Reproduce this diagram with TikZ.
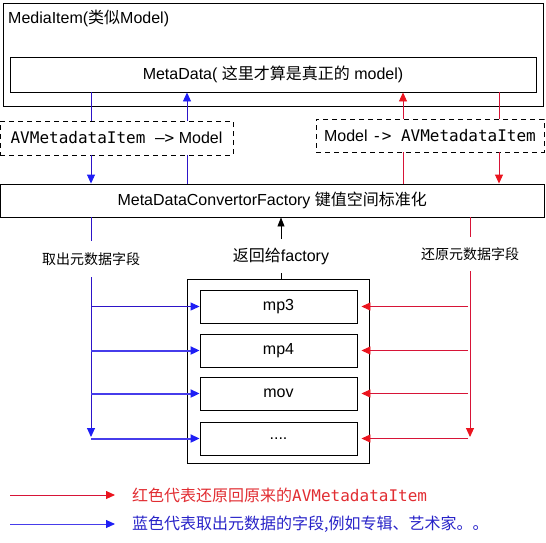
\documentclass[tikz,border=0pt]{standalone}
\usepackage{fontspec}
\setmainfont{Liberation Sans}
\newfontfamily\cjk{Noto Sans CJK SC}
\newfontfamily\mono{DejaVu Sans Mono}
\usetikzlibrary{arrows.meta,positioning}
\definecolor{lineblue}{RGB}{45,20,200}
\definecolor{tipblue}{RGB}{30,30,245}
\definecolor{thickblue}{RGB}{70,60,235}
\definecolor{linered}{RGB}{215,20,55}
\definecolor{tipred}{RGB}{235,20,30}
\definecolor{textred}{RGB}{225,45,50}
\definecolor{textblue}{RGB}{40,35,200}
\tikzset{
  box/.style={draw, line width=0.9pt, inner sep=0pt, fill=white},
  dashbox/.style={draw, dash pattern=on 5pt off 4pt, line width=0.9pt, fill=white, inner sep=0pt},
  lbl/.style={fill=white, inner sep=0pt, outer sep=0pt},
  bline/.style={lineblue, line width=0.9pt},
  rline/.style={linered, line width=0.9pt},
  btip/.style={-{Triangle[length=9pt,width=8pt,color=tipblue]}},
  rtip/.style={-{Triangle[length=9pt,width=8pt,color=tipred]}},
  ktip/.style={-{Triangle[length=9pt,width=7pt]}},
}
\begin{document}
\begin{tikzpicture}[x=1pt, y=-1pt, font=\fontsize{16}{19}\selectfont]
    \useasboundingbox (0,0) rectangle (546,542);
    %MediaItem
    \node[box, minimum width=540pt, minimum height=103pt] (item) at (273,54.5) {};
    \node[anchor=west, inner sep=0pt] (itemlbl) at (8,18) {MediaItem({\cjk 类似}Model)};
    \node[box, minimum width=526pt, minimum height=35pt] (meta) at (273,74.5) {MetaData( {\cjk 这里才算是真正的} model)};
    %Converters
    \node[dashbox, minimum width=233pt, minimum height=34pt] (toModel) at (116.5,138) {{\mono AVMetadataItem –>} Model};
    \node[dashbox, minimum width=228pt, minimum height=33pt] (toItem) at (430,135.5) {Model {\mono -> AVMetadataItem}};
    \node[box, minimum width=543.5pt, minimum height=33pt] (factory) at (272.25,200.5) {MetaDataConvertorFactory {\cjk 键值空间标准化}};
    %columns
    \coordinate (bl) at (91,0);
    \coordinate (bu) at (187,0);
    \coordinate (ru) at (403,0);
    \coordinate (rd) at (499,0);
    \coordinate (rl) at (470,0);
    %top lines
    \draw[bline] (meta.south -| bl) -- (toModel.north -| bl);
    \draw[bline, btip] (toModel.south -| bl) -- (factory.north -| bl);
    \draw[bline] (factory.north -| bu) -- (toModel.south -| bu);
    \draw[bline, btip] (toModel.north -| bu) -- (meta.south -| bu);
    \draw[rline] (factory.north -| ru) -- (toItem.south -| ru);
    \draw[rline, rtip] (toItem.north -| ru) -- (meta.south -| ru);
    \draw[rline] (meta.south -| rd) -- (toItem.north -| rd);
    \draw[rline, rtip] (toItem.south -| rd) -- (factory.north -| rd);
    %formats
    \node[box, minimum width=182pt, minimum height=184pt] (formats) at (278,371) {};
    \node[box, minimum width=157pt, minimum height=33pt] (mp3) at (278.5,306.5) {mp3};
    \node[box, minimum width=157pt, minimum height=33pt] (mp4) at (278.5,350.5) {mp4};
    \node[box, minimum width=157pt, minimum height=33pt] (mov) at (278.5,393.5) {mov};
    \node[box, minimum width=157pt, minimum height=33pt] (more) at (278.5,438.5) {....};
    %labels
    \node[lbl, font=\fontsize{14}{16}\selectfont\cjk, minimum height=36pt] (take) at (91,259) {取出元数据字段};
    \node[lbl, minimum height=34pt] (back) at (281,256) {{\cjk 返回给}factory};
    \node[lbl, font=\fontsize{14}{16}\selectfont\cjk, minimum height=34pt] (restore) at (470,254) {还原元数据字段};
    \coordinate (takeEnd) at (91,437);
    \coordinate (restoreEnd) at (470,437);
    \draw[bline] (factory.south -| take) -- (take.north);
    \draw[bline, btip] (take.south) -- (takeEnd);
    \draw[rline] (factory.south -| restore) -- (restore.north);
    \draw[rline, rtip] (restore.south) -- (restoreEnd);
    \draw[line width=0.9pt] (formats.north -| back) -- (back.south);
    \draw[line width=0.9pt, ktip] (back.north) -- (factory.south -| back);
    %fields
    \draw[bline, btip] (bl |- mp3.west) -- (mp3.west);
    \foreach \f in {mp4, mov, more}
        \draw[thickblue, line width=2pt, btip] (bl |- \f.west) -- (\f.west);
    \foreach \f in {mp3, mp4, mov, more}
        \draw[rline, rtip] ([xshift=-2pt]rl |- \f.east) -- ([xshift=4pt]\f.east);
    %legend
    \node[anchor=west, inner sep=0pt, textred] (legRed) at (132,495) {{\cjk 红色代表还原回原来的}{\mono AVMetadataItem}};
    \node[anchor=west, inner sep=0pt, textblue] (legBlue) at (132,524) {{\cjk 蓝色代表取出元数据的字段,例如专辑、艺术家。。}};
    \coordinate (legRedStart) at (10,495);
    \coordinate (legBlueStart) at (10,524);
    \draw[rline, rtip] (legRedStart) -- ([xshift=-17pt]legRed.west);
    \draw[thickblue, line width=0.9pt, btip] (legBlueStart) -- ([xshift=-17pt]legBlue.west);
\end{tikzpicture}
\end{document}
